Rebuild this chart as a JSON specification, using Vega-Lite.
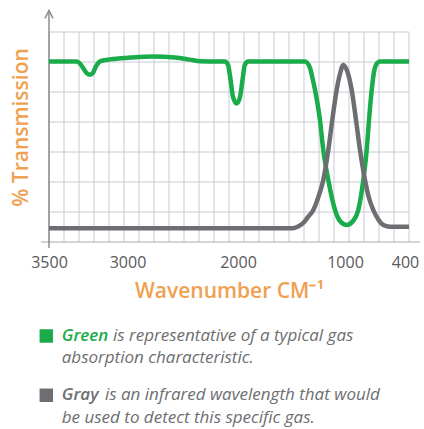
{
  "$schema": "https://vega.github.io/schema/vega-lite/v6.json",
  "width": 360,
  "height": 230,
  "autosize": {"type": "none"},
  "padding": {"left": 49, "top": 12, "right": 15, "bottom": 187},
  "background": "white",
  "config": {"view": {"stroke": null}, "font": "Open Sans"},
  "datasets": {
    "vgrid": [{"k":0},{"k":1},{"k":2},{"k":3},{"k":4},{"k":5},{"k":6},{"k":7},{"k":8},{"k":9},{"k":10},{"k":11},{"k":12},{"k":13},{"k":14},{"k":15},{"k":16},{"k":17},{"k":18},{"k":19},{"k":20},{"k":21},{"k":22},{"k":23},{"k":24}],
    "hgrid": [{"h":15},{"h":30},{"h":45},{"h":60},{"h":75},{"h":90},{"h":105}],
    "curves": [
      {"series":"Green","wn":3500,"T":90.2},
      {"series":"Green","wn":3323.6,"T":90.2},
      {"series":"Green","wn":3302.6,"T":89.2},
      {"series":"Green","wn":3277,"T":86.3},
      {"series":"Green","wn":3258,"T":84.3},
      {"series":"Green","wn":3239,"T":83.6},
      {"series":"Green","wn":3220,"T":84.6},
      {"series":"Green","wn":3200.7,"T":87.8},
      {"series":"Green","wn":3175,"T":90.3},
      {"series":"Green","wn":3111,"T":91.3},
      {"series":"Green","wn":2977,"T":92.2},
      {"series":"Green","wn":2769,"T":92.8},
      {"series":"Green","wn":2570,"T":92.3},
      {"series":"Green","wn":2434,"T":91.2},
      {"series":"Green","wn":2344,"T":90.4},
      {"series":"Green","wn":2117.6,"T":90.2},
      {"series":"Green","wn":2090,"T":88.5},
      {"series":"Green","wn":2067,"T":81},
      {"series":"Green","wn":2045,"T":72.5},
      {"series":"Green","wn":2011.5,"T":69.3},
      {"series":"Green","wn":1981,"T":72.5},
      {"series":"Green","wn":1958,"T":81},
      {"series":"Green","wn":1936.5,"T":88.5},
      {"series":"Green","wn":1906.5,"T":90.2},
      {"series":"Green","wn":1374,"T":90.2},
      {"series":"Green","wn":1327,"T":87},
      {"series":"Green","wn":1304,"T":82},
      {"series":"Green","wn":1280,"T":76},
      {"series":"Green","wn":1234,"T":61},
      {"series":"Green","wn":1203,"T":46},
      {"series":"Green","wn":1156,"T":31},
      {"series":"Green","wn":1093,"T":16},
      {"series":"Green","wn":1047,"T":10.5},
      {"series":"Green","wn":983,"T":8.5},
      {"series":"Green","wn":920,"T":10.5},
      {"series":"Green","wn":867,"T":16},
      {"series":"Green","wn":817,"T":31},
      {"series":"Green","wn":783,"T":46},
      {"series":"Green","wn":760,"T":61},
      {"series":"Green","wn":733,"T":76},
      {"series":"Green","wn":710,"T":85},
      {"series":"Green","wn":690,"T":88.5},
      {"series":"Green","wn":650,"T":90.2},
      {"series":"Green","wn":360,"T":90.2},
      {"series":"Gray","wn":3500,"T":6.85},
      {"series":"Gray","wn":1486,"T":6.85},
      {"series":"Gray","wn":1439,"T":7.8},
      {"series":"Gray","wn":1390,"T":9.5},
      {"series":"Gray","wn":1346,"T":12.5},
      {"series":"Gray","wn":1296,"T":16},
      {"series":"Gray","wn":1252,"T":22},
      {"series":"Gray","wn":1203,"T":31},
      {"series":"Gray","wn":1156,"T":46},
      {"series":"Gray","wn":1119,"T":61},
      {"series":"Gray","wn":1078,"T":76},
      {"series":"Gray","wn":1047,"T":84},
      {"series":"Gray","wn":1016,"T":88.5},
      {"series":"Gray","wn":975,"T":85},
      {"series":"Gray","wn":933,"T":76},
      {"series":"Gray","wn":890,"T":61},
      {"series":"Gray","wn":850,"T":46},
      {"series":"Gray","wn":800,"T":31},
      {"series":"Gray","wn":760,"T":22},
      {"series":"Gray","wn":717,"T":16},
      {"series":"Gray","wn":670,"T":11.5},
      {"series":"Gray","wn":617,"T":8.5},
      {"series":"Gray","wn":550,"T":7.65},
      {"series":"Gray","wn":360,"T":7.65}
    ],
    "legend": [
      {"para":1,"series":"Green","key":"Green","rest":"is representative of a typical gas","second":"absorption characteristic."},
      {"para":2,"series":"Gray","key":"Gray","rest":"is an infrared wavelength that would","second":"be used to detect this specific gas."}
    ]
  },
  "layer": [
    {
      "data": {"name": "vgrid"},
      "mark": {"type": "rule", "color": "#c7cad0", "strokeWidth": 1},
      "encoding": {
        "x": {"field": "k", "type": "quantitative", "scale": {"domain": [0, 24], "nice": false, "zero": false}, "axis": null},
        "y": {"datum": 0, "type": "quantitative", "scale": {"domain": [0, 115], "nice": false}, "axis": null},
        "y2": {"datum": 105}
      }
    },
    {
      "data": {"name": "hgrid"},
      "mark": {"type": "rule", "color": "#c7cad0", "strokeWidth": 1},
      "encoding": {
        "x": {"datum": 0, "type": "quantitative", "scale": {"domain": [0, 24], "nice": false, "zero": false}, "axis": null},
        "x2": {"datum": 24},
        "y": {"field": "h", "type": "quantitative", "scale": {"domain": [0, 115], "nice": false}, "axis": null}
      }
    },
    {
      "data": {"values": [{}]},
      "mark": {"type": "rule", "color": "#a7a9ac", "strokeWidth": 1.2},
      "encoding": {
        "x": {"datum": -0.53, "type": "quantitative", "scale": {"domain": [0, 24], "nice": false, "zero": false}, "axis": null},
        "x2": {"datum": 24.73},
        "y": {"datum": 0, "type": "quantitative", "scale": {"domain": [0, 115], "nice": false}, "axis": null}
      }
    },
    {
      "data": {"values": [{}]},
      "mark": {"type": "rule", "color": "#8a8c8f", "strokeWidth": 1.5},
      "encoding": {
        "x": {"datum": 0, "type": "quantitative", "scale": {"domain": [0, 24], "nice": false, "zero": false}, "axis": null},
        "y": {"datum": -3, "type": "quantitative", "scale": {"domain": [0, 115], "nice": false}, "axis": null},
        "y2": {"datum": 115.5}
      }
    },
    {
      "data": {"values": [{}]},
      "mark": {"type": "point", "shape": "M-1,1.6L0,-0.4L1,1.6", "filled": false, "stroke": "#8a8c8f", "strokeWidth": 1.5, "size": 64, "opacity": 1},
      "encoding": {
        "x": {"datum": 0, "type": "quantitative", "scale": {"domain": [0, 24], "nice": false, "zero": false}, "axis": null},
        "y": {"datum": 115, "type": "quantitative", "scale": {"domain": [0, 115], "nice": false}, "axis": null}
      }
    },
    {
      "data": {"name": "curves"},
      "mark": {"type": "line", "interpolate": "monotone", "strokeWidth": 4.5, "strokeJoin": "round"},
      "encoding": {
        "x": {
          "field": "wn", "type": "quantitative",
          "scale": {"domain": [3500, 3000, 2000, 1000, 360], "range": [0, 78.5, 189, 296, 360], "nice": false, "zero": false},
          "axis": {"orient": "bottom", "values": [3500, 3000, 2000, 1000, 400], "format": "d", "title": "Wavenumber CM⁻¹", "domain": false, "ticks": false, "grid": false, "labelFlush": false, "labelOverlap": false, "labelFontSize": 16, "labelColor": "#58595b", "labelPadding": 12, "titleFontSize": 21, "titleFontWeight": 600, "titleColor": "#efa050", "titlePadding": 10}
        },
        "y": {
          "field": "T", "type": "quantitative",
          "scale": {"domain": [0, 115], "nice": false},
          "axis": {"orient": "left", "title": "% Transmission", "labels": false, "ticks": false, "domain": false, "grid": false, "titleFontSize": 21, "titleFontWeight": 600, "titleColor": "#efa050", "titlePadding": 18}
        },
        "color": {"field": "series", "type": "nominal", "scale": {"domain": ["Green", "Gray"], "range": ["#1aab4b", "#6d6e71"]}, "legend": null}
      }
    },
    {
      "data": {"name": "legend"},
      "mark": {"type": "point", "shape": "M-1,-1.7H1V0.3H-1Z", "filled": true, "size": 182, "opacity": 1},
      "encoding": {
        "x": {"datum": -0.18, "type": "quantitative", "scale": {"domain": [0, 24], "nice": false, "zero": false}, "axis": null},
        "y": {"field": "para", "type": "quantitative", "scale": {"domain": [1, 2], "range": [328.7, 388]}, "axis": null},
        "color": {"field": "series", "type": "nominal", "scale": {"domain": ["Green", "Gray"], "range": ["#1aab4b", "#6d6e71"]}, "legend": null}
      }
    },
    {
      "data": {"name": "legend"},
      "mark": {"type": "text", "align": "left", "baseline": "alphabetic", "fontSize": 17, "fontStyle": "italic", "fontWeight": 600},
      "encoding": {
        "x": {"datum": 0.85, "type": "quantitative", "scale": {"domain": [0, 24], "nice": false, "zero": false}, "axis": null},
        "y": {"field": "para", "type": "quantitative", "scale": {"domain": [1, 2], "range": [328.7, 388]}, "axis": null},
        "text": {"field": "key"},
        "color": {"field": "series", "type": "nominal", "scale": {"domain": ["Green", "Gray"], "range": ["#1aab4b", "#6d6e71"]}, "legend": null}
      }
    },
    {
      "data": {"name": "legend"},
      "transform": [{"filter": "datum.para == 1"}],
      "mark": {"type": "text", "align": "left", "baseline": "alphabetic", "fontSize": 17, "fontStyle": "italic", "color": "#6d6e71"},
      "encoding": {
        "x": {"datum": 4.27, "type": "quantitative", "scale": {"domain": [0, 24], "nice": false, "zero": false}, "axis": null},
        "y": {"field": "para", "type": "quantitative", "scale": {"domain": [1, 2], "range": [328.7, 388]}, "axis": null},
        "text": {"field": "rest"}
      }
    },
    {
      "data": {"name": "legend"},
      "transform": [{"filter": "datum.para == 2"}],
      "mark": {"type": "text", "align": "left", "baseline": "alphabetic", "fontSize": 17, "fontStyle": "italic", "color": "#6d6e71"},
      "encoding": {
        "x": {"datum": 3.73, "type": "quantitative", "scale": {"domain": [0, 24], "nice": false, "zero": false}, "axis": null},
        "y": {"field": "para", "type": "quantitative", "scale": {"domain": [1, 2], "range": [328.7, 388]}, "axis": null},
        "text": {"field": "rest"}
      }
    },
    {
      "data": {"name": "legend"},
      "mark": {"type": "text", "align": "left", "baseline": "alphabetic", "fontSize": 17, "fontStyle": "italic", "color": "#6d6e71", "dy": 22.5},
      "encoding": {
        "x": {"datum": 0.85, "type": "quantitative", "scale": {"domain": [0, 24], "nice": false, "zero": false}, "axis": null},
        "y": {"field": "para", "type": "quantitative", "scale": {"domain": [1, 2], "range": [328.7, 388]}, "axis": null},
        "text": {"field": "second"}
      }
    }
  ],
  "resolve": {"scale": {"x": "independent", "y": "independent", "color": "independent"}}
}
